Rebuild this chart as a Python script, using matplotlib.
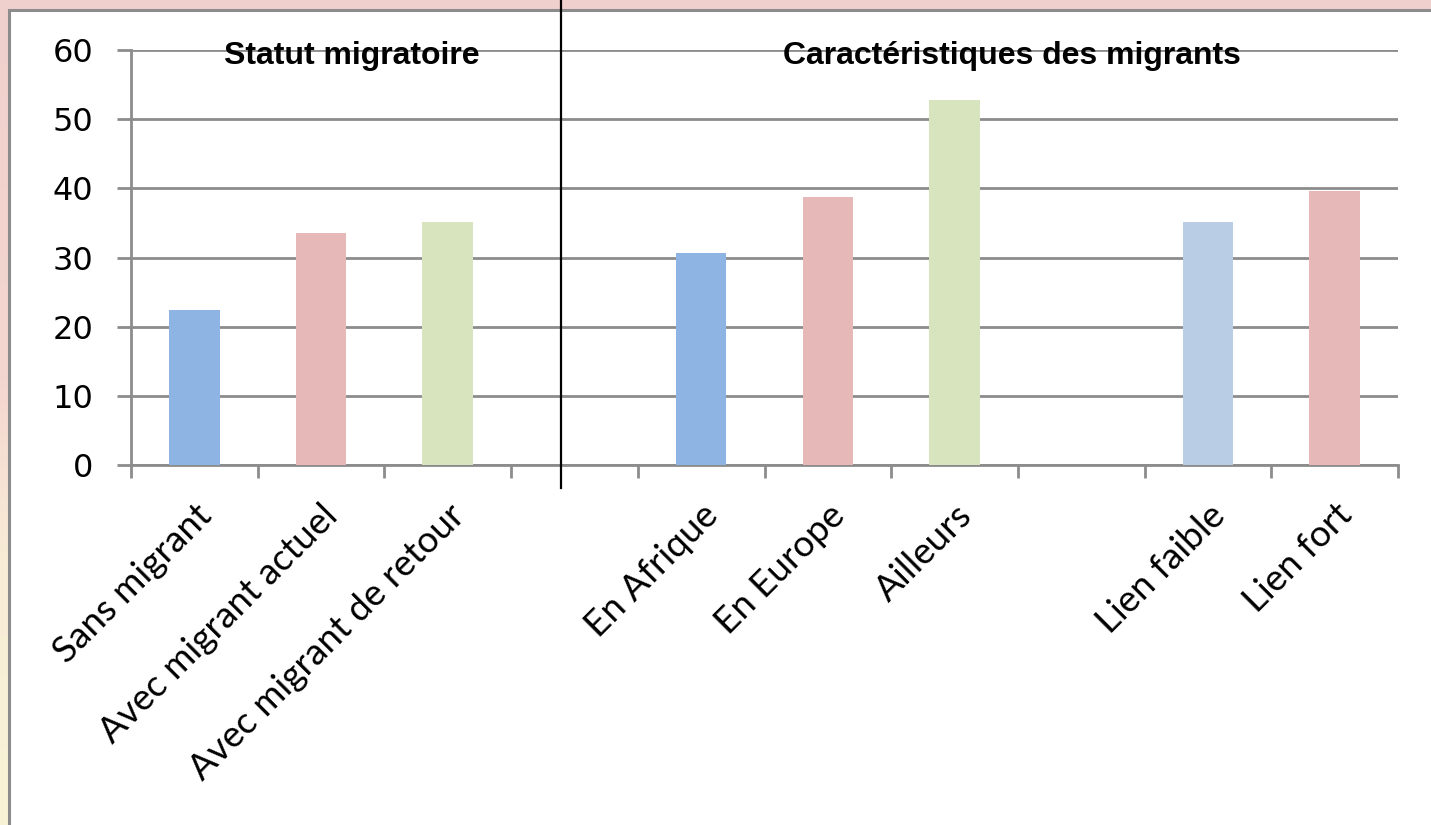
import numpy as np
import matplotlib.pyplot as plt
import matplotlib.transforms as mtransforms
from matplotlib.patches import Rectangle

# Données (les chaînes vides sont des emplacements vides)
categories = ["Sans migrant", "Avec migrant actuel", "Avec migrant de retour", "",
              "En Afrique", "En Europe", "Ailleurs", "",
              "Lien faible", "Lien fort"]
valeurs = [22.4, 33.5, 35.2, None, 30.6, 38.8, 52.8, None, 35.2, 39.6]
couleurs = ["#8EB4E3", "#E6B8B7", "#D7E4BD", None,
            "#8EB4E3", "#E6B8B7", "#D7E4BD", None,
            "#B9CDE5", "#E6B8B7"]
titres_groupes = ["Statut migratoire", "Caractéristiques des migrants"]
centres_groupes = [1.24, 6.45]
graduations_y = [0, 10, 20, 30, 40, 50, 60]
separateur_x = 2.89

W, H = 1431, 825
fig = plt.figure(figsize=(W / 100, H / 100), dpi=100)

# Fond de diapositive en dégradé (rose en haut, jaune pâle en bas)
fond = fig.add_axes([0, 0, 1, 1], zorder=-10)
yy = np.arange(H)
pts = [0, 380, 560, 825]
r = np.interp(yy, pts, [240, 244, 248, 247])
g = np.interp(yy, pts, [208, 214, 236, 243])
b = np.interp(yy, pts, [204, 208, 214, 214])
img = np.stack([r, g, b], axis=-1)[:, None, :].repeat(W, axis=1) / 255
fond.imshow(img, extent=[0, W, H, 0], aspect="auto")
fond.add_patch(Rectangle((9, 10), W, H, facecolor="white",
                         edgecolor="#8C8C8C", lw=2.2))
fond.set_xlim(0, W)
fond.set_ylim(H, 0)
fond.axis("off")

# Graphique principal
ax = fig.add_axes([131 / W, 1 - 465 / H, (1398 - 131) / W, (465 - 50) / H])
x = np.arange(len(categories))
for i, v in enumerate(valeurs):
    if v is not None:
        ax.bar(x[i], v, width=0.4, color=couleurs[i], zorder=3)

ax.set_xlim(-0.5, len(categories) - 0.5)
ax.set_ylim(0, 60)
ax.set_yticks(graduations_y)
ax.set_xticks(x)
ax.set_xticklabels(categories, rotation=45, ha="right", rotation_mode="anchor",
                   fontsize=26.5, family="Lato")
ax.set_xticks(np.arange(-0.5, len(categories), 1), minor=True)
ax.tick_params(axis="x", which="major", length=0, pad=24)
ax.tick_params(axis="x", which="minor", length=9, width=2, color="#8C8C8C")
ax.tick_params(axis="y", length=10, width=2, color="#8C8C8C", pad=17,
               labelsize=23)
ax.yaxis.grid(True, color="#8C8C8C", lw=2)
ax.set_axisbelow(True)
for cote in ["top", "right"]:
    ax.spines[cote].set_visible(False)
for cote in ["left", "bottom"]:
    ax.spines[cote].set_color("#8C8C8C")
    ax.spines[cote].set_linewidth(2)

# Titres des groupes et séparateur vertical
mixte = mtransforms.blended_transform_factory(ax.transData, fig.transFigure)
for cx, titre in zip(centres_groupes, titres_groupes):
    ax.text(cx, 1 - 64 / H, titre, transform=mixte, ha="center", va="baseline",
            fontsize=23, fontweight="bold", family="Liberation Sans")
ax.plot([separateur_x, separateur_x], [1, 1 - 488 / H], transform=mixte,
        color="black", lw=1.6, clip_on=False, zorder=5)

fig.savefig("out.png", dpi=100)
